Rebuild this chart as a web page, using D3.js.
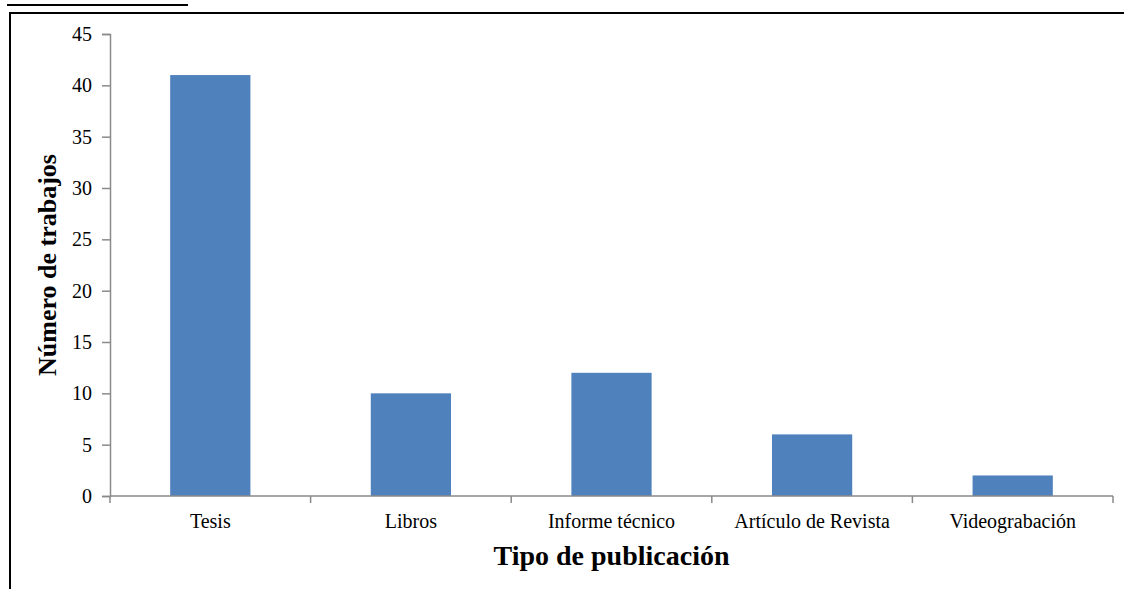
<!DOCTYPE html>
<html>
<head>
<meta charset="utf-8">
<script src="https://cdn.jsdelivr.net/npm/d3@7"></script>
<style>
  html, body { margin: 0; padding: 0; background: #fff; }
  svg { display: block; }
  text { font-family: "Liberation Serif", "Times New Roman", serif; fill: #000; }
</style>
</head>
<body>
<svg id="chart" width="1124" height="589"></svg>
<script>
const categories = ["Tesis", "Libros", "Informe técnico", "Artículo de Revista", "Videograbación"];
const values = [41, 10, 12, 6, 2];
const yTicks = [0, 5, 10, 15, 20, 25, 30, 35, 40, 45];
const xTitle = "Tipo de publicación";
const yTitle = "Número de trabajos";

const svg = d3.select("#chart");
const plot = { left: 110, right: 1113, top: 34, bottom: 496 };

// outer frame (cropped document box)
svg.append("line").attr("x1", 9).attr("x2", 1124).attr("y1", 13).attr("y2", 13)
  .attr("stroke", "#000").attr("stroke-width", 2);
svg.append("line").attr("x1", 10).attr("x2", 10).attr("y1", 12).attr("y2", 589)
  .attr("stroke", "#000").attr("stroke-width", 2);
// caption underline remnant at the top
svg.append("line").attr("x1", 7).attr("x2", 188).attr("y1", 5).attr("y2", 5)
  .attr("stroke", "#000").attr("stroke-width", 2);

const x = d3.scaleBand()
  .domain(categories)
  .range([plot.left, plot.right])
  .paddingInner(0.6)
  .paddingOuter(0.3);

const y = d3.scaleLinear()
  .domain([0, 45])
  .range([plot.bottom, plot.top]);

// bars
svg.append("g").selectAll("rect")
  .data(categories)
  .join("rect")
  .attr("x", d => x(d))
  .attr("width", x.bandwidth())
  .attr("y", (d, i) => y(values[i]))
  .attr("height", (d, i) => y(0) - y(values[i]))
  .attr("fill", "#4F81BD");

// y axis
const yAxis = svg.append("g")
  .attr("transform", `translate(${plot.left},0)`)
  .call(d3.axisLeft(y).tickValues(yTicks).tickSize(8).tickPadding(10).tickFormat(d3.format("d")));
yAxis.select(".domain").attr("stroke", "#8a8a8a").attr("stroke-width", 1.5);
yAxis.selectAll(".tick line").attr("stroke", "#8a8a8a").attr("stroke-width", 1.5);
yAxis.selectAll(".tick text")
  .style("font-family", "'Liberation Serif', serif")
  .style("font-size", "20px")
  .attr("fill", "#000");

// x axis baseline
const xg = svg.append("g");
xg.append("line")
  .attr("x1", plot.left).attr("x2", plot.right)
  .attr("y1", y(0)).attr("y2", y(0))
  .attr("stroke", "#8a8a8a").attr("stroke-width", 1.5);
// x tick marks at category boundaries
const boundaries = categories.map(d => x(d) - x.step() * x.paddingInner() / 2)
  .concat([x(categories[categories.length - 1]) + x.bandwidth() + x.step() * x.paddingInner() / 2]);
xg.selectAll("line.tick")
  .data(boundaries)
  .join("line")
  .attr("class", "tick")
  .attr("x1", d => d).attr("x2", d => d)
  .attr("y1", y(0)).attr("y2", y(0) + 7)
  .attr("stroke", "#8a8a8a").attr("stroke-width", 1.5);
// x tick labels
xg.selectAll("text")
  .data(categories)
  .join("text")
  .attr("x", d => x(d) + x.bandwidth() / 2)
  .attr("y", y(0) + 32)
  .attr("text-anchor", "middle")
  .style("font-size", "20px")
  .text(d => d);

// axis titles
svg.append("text")
  .attr("x", (plot.left + plot.right) / 2)
  .attr("y", 565)
  .attr("text-anchor", "middle")
  .style("font-size", "28px")
  .style("font-weight", "bold")
  .text(xTitle);

svg.append("text")
  .attr("transform", `translate(56,${(plot.top + plot.bottom) / 2}) rotate(-90)`)
  .attr("text-anchor", "middle")
  .style("font-size", "26px")
  .style("font-weight", "bold")
  .text(yTitle);
</script>
</body>
</html>
